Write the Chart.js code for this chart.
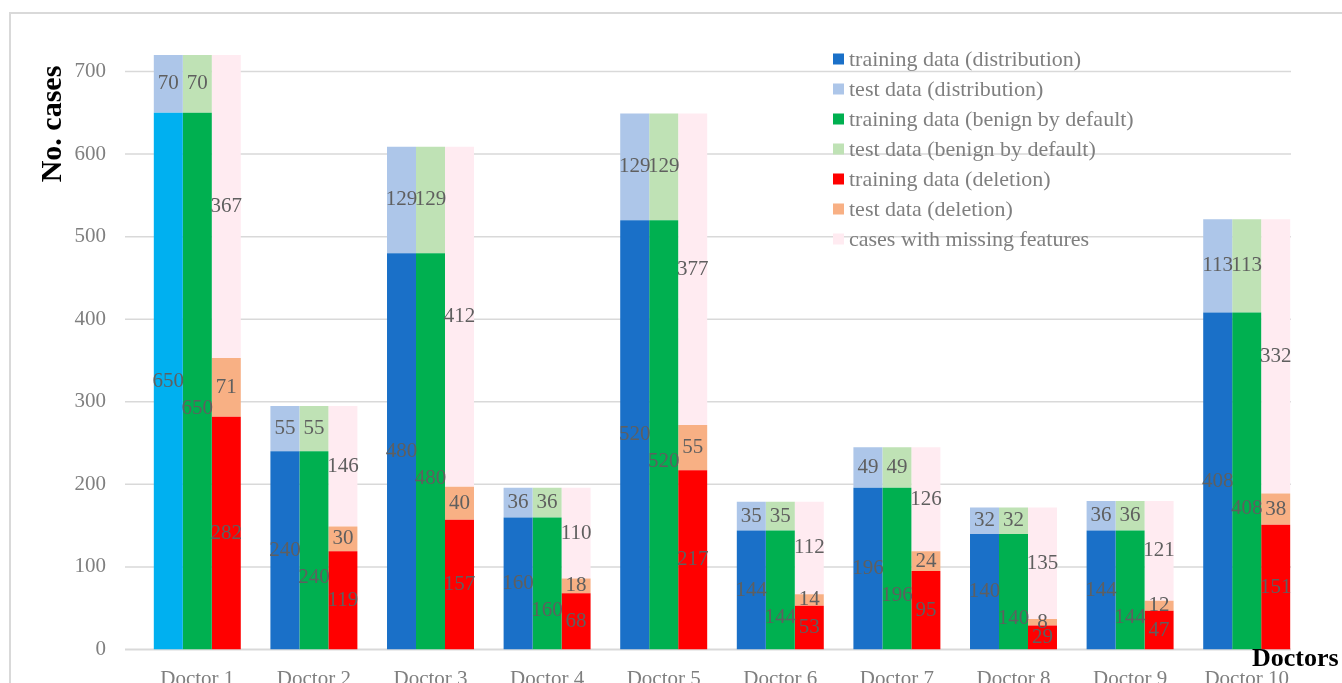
<!DOCTYPE html>
<html lang="en">
<head>
    <meta charset="UTF-8">
    <title>Cases per doctor</title>
    <style>
        html, body {
            margin: 0;
            padding: 0;
            background: #fff;
            overflow: hidden;
        }
        body {
            width: 1342px;
            height: 683px;
            position: relative;
        }
        .frame {
            position: absolute;
            left: 9px;
            top: 12px;
            width: 1400px;
            height: 800px;
            border: 2px solid #d9d9d9;
            box-sizing: border-box;
        }
        .wrap {
            position: absolute;
            left: 0;
            top: 0;
            width: 1342px;
            height: 720px;
        }
    </style>
</head>
<body>
    <div class="frame"></div>
    <div class="wrap"><canvas id="chart"></canvas></div>
    <script src="https://cdn.jsdelivr.net/npm/chart.js"></script>
    <script>
        const doctors = ['Doctor 1', 'Doctor 2', 'Doctor 3', 'Doctor 4', 'Doctor 5',
                         'Doctor 6', 'Doctor 7', 'Doctor 8', 'Doctor 9', 'Doctor 10'];
        const trainDist   = [650, 240, 480, 160, 520, 144, 196, 140, 144, 408];
        const testDist    = [70, 55, 129, 36, 129, 35, 49, 32, 36, 113];
        const trainBenign = [650, 240, 480, 160, 520, 144, 196, 140, 144, 408];
        const testBenign  = [70, 55, 129, 36, 129, 35, 49, 32, 36, 113];
        const trainDel    = [282, 119, 157, 68, 217, 53, 95, 29, 47, 151];
        const testDel     = [71, 30, 40, 18, 55, 14, 24, 8, 12, 38];
        const missing     = [367, 146, 412, 110, 377, 112, 126, 135, 121, 332];
        const yTicks = [0, 100, 200, 300, 400, 500, 600, 700];

        const serif = "'Times New Roman', 'Liberation Serif', serif";
        const grey = '#7f7f7f';
        const blue = '#1a70c8';

        // first doctor's training bar is drawn in a lighter cyan in the original
        const distColors = doctors.map((d, i) => i === 0 ? '#00b0f0' : blue);

        const series = [
            { label: 'training data (distribution)', data: trainDist, stack: 'dist', color: blue, fill: distColors },
            { label: 'test data (distribution)', data: testDist, stack: 'dist', color: '#adc6e9' },
            { label: 'training data (benign by default)', data: trainBenign, stack: 'benign', color: '#00b050' },
            { label: 'test data (benign by default)', data: testBenign, stack: 'benign', color: '#bfe2b5' },
            { label: 'training data (deletion)', data: trainDel, stack: 'del', color: '#ff0000' },
            { label: 'test data (deletion)', data: testDel, stack: 'del', color: '#f8b084' },
            { label: 'cases with missing features', data: missing, stack: 'del', color: '#ffebf1' }
        ];

        // horizontal gridlines, shifted a bit left like the excel plot area
        const gridLines = {
            id: 'gridLines',
            beforeDatasetsDraw(chart) {
                const { ctx, chartArea, scales: { y } } = chart;
                ctx.save();
                ctx.strokeStyle = '#d9d9d9';
                yTicks.forEach(v => {
                    const py = y.getPixelForValue(v);
                    ctx.lineWidth = v === 0 ? 2 : 1.5;
                    ctx.beginPath();
                    ctx.moveTo(chartArea.left - 14, py);
                    ctx.lineTo(chartArea.right - 14, py);
                    ctx.stroke();
                });
                ctx.restore();
            }
        };

        const valueLabels = {
            id: 'valueLabels',
            afterDatasetsDraw(chart) {
                const ctx = chart.ctx;
                ctx.save();
                ctx.font = '21px ' + serif;
                ctx.fillStyle = '#5f5f5f';
                ctx.textAlign = 'center';
                ctx.textBaseline = 'middle';
                chart.data.datasets.forEach((ds, di) => {
                    const meta = chart.getDatasetMeta(di);
                    meta.data.forEach((bar, i) => {
                        const shift = di === 2 ? 27 : 0;
                        ctx.fillText(ds.data[i], bar.x, (bar.y + bar.base) / 2 + shift);
                    });
                });
                ctx.restore();
            }
        };

        const legendAndTitles = {
            id: 'legendAndTitles',
            afterDraw(chart) {
                const ctx = chart.ctx;
                ctx.save();
                ctx.font = '22px ' + serif;
                ctx.textBaseline = 'middle';
                ctx.textAlign = 'left';
                series.forEach((s, i) => {
                    const cy = 59 + i * 30;
                    ctx.fillStyle = s.color;
                    ctx.fillRect(833, cy - 5.5, 11, 11);
                    ctx.fillStyle = grey;
                    ctx.fillText(s.label, 849, cy + 1);
                });

                ctx.fillStyle = '#000';
                ctx.font = 'bold 30px ' + serif;
                ctx.save();
                ctx.translate(53, 124);
                ctx.rotate(-Math.PI / 2);
                ctx.textAlign = 'center';
                ctx.fillText('No. cases', 0, 0);
                ctx.restore();

                ctx.font = 'bold 26px ' + serif;
                ctx.textBaseline = 'alphabetic';
                ctx.fillText('Doctors', 1252, 666);
                ctx.restore();
            }
        };

        const ctx = document.getElementById('chart').getContext('2d');
        new Chart(ctx, {
            type: 'bar',
            data: {
                labels: doctors,
                datasets: series.map(s => ({
                    label: s.label,
                    data: s.data,
                    stack: s.stack,
                    backgroundColor: s.fill || s.color,
                    borderWidth: 0,
                    categoryPercentage: 0.746,
                    barPercentage: 1
                }))
            },
            options: {
                responsive: true,
                maintainAspectRatio: false,
                animation: false,
                layout: { padding: { top: 55, right: 37, left: 0, bottom: 0 } },
                plugins: {
                    legend: { display: false },
                    tooltip: { enabled: false }
                },
                scales: {
                    x: {
                        stacked: true,
                        grid: { display: false, drawTicks: false },
                        border: { display: false },
                        ticks: {
                            color: grey,
                            font: { family: serif, size: 21 },
                            padding: 17,
                            maxRotation: 0
                        },
                        afterFit(axis) { axis.height = 70.5; }
                    },
                    y: {
                        stacked: true,
                        min: 0,
                        max: 720,
                        grid: { display: false, drawTicks: false },
                        border: { display: false },
                        ticks: {
                            stepSize: 100,
                            includeBounds: false,
                            color: grey,
                            font: { family: serif, size: 21 },
                            padding: 33
                        },
                        afterFit(axis) { axis.width = 139; }
                    }
                }
            },
            plugins: [gridLines, valueLabels, legendAndTitles]
        });
    </script>
</body>
</html>
